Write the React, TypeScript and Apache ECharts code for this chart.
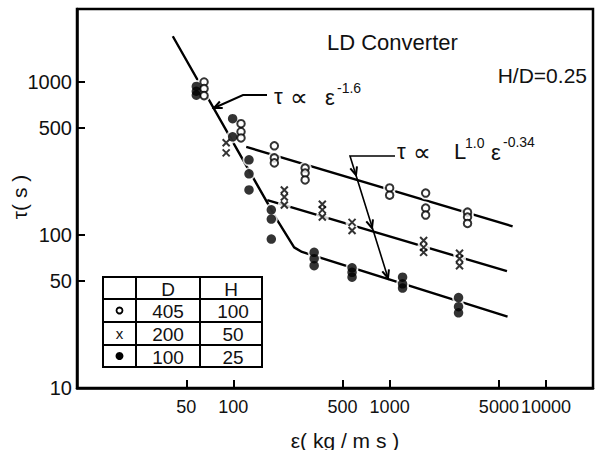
import React, { useEffect, useRef } from "react";
import * as echarts from "echarts";

// ε (kg/m s) and τ (s) readings, D=405 H=100 (open circles)
const openEps = [65, 65, 65, 112, 112, 112, 183, 183, 183, 288, 288, 288, 1000, 1000, 1700, 1700, 1700, 3150, 3150, 3150];
const openTau = [1000, 905, 815, 534, 473, 431, 383, 319, 296, 274, 254, 229, 203, 182, 188, 150, 135, 141, 131, 119];
// D=200 H=50 (crosses)
const crossEps = [90, 90, 212, 212, 212, 371, 371, 371, 575, 575, 1650, 1650, 1650, 2800, 2800, 2800];
const crossTau = [401, 344, 197, 177, 157, 159, 146, 131, 121, 107, 92, 83, 77, 76, 70, 63];
// D=100 H=25 (filled circles)
const fillEps = [58, 58, 58, 99, 99, 126, 126, 126, 175, 175, 175, 329, 329, 329, 575, 575, 575, 1210, 1210, 1210, 2760, 2760, 2760];
const fillTau = [935, 870, 820, 576, 438, 310, 251, 197, 146, 127, 94, 77, 70, 63, 61, 57, 53, 53, 48, 45, 39, 34, 31];

// fitted lines
const steepLineEps = [41, 191, 245, 275, 5680];
const steepLineTau = [1990, 125, 83, 77.5, 29.3];
const openLineEps = [121, 6120];
const openLineTau = [377, 114];
const crossLineEps = [165, 5630];
const crossLineTau = [169, 58];

// axes
const xTicks = [50, 100, 500, 1000, 5000, 10000];
const yTicks = [50, 100, 500, 1000];
const yLabels = [10, 50, 100, 500, 1000];

// legend table
const tableHeader = ["", "D", "H"];
const tableD = [405, 200, 100];
const tableH = [100, 50, 25];

const FONT = "'Liberation Sans', 'DejaVu Sans', sans-serif";
const SYMFONT = "'DejaVu Sans', sans-serif";
const L = Math.log10;
const pts = (xs: number[], ys: number[]) => xs.map((x, i) => [L(x), L(ys[i])]);
// tiny inward nudge so boundary-exact tick values survive range filtering
const tickPos = (vals: number[]) => vals.map((v) => L(v) - 1e-9);

function arrowV(tx: number, ty: number, dx: number, dy: number, len = 8, w = 3.5) {
  const n = Math.hypot(dx, dy);
  const ux = dx / n, uy = dy / n;
  return {
    type: "polyline",
    z: 100,
    shape: {
      points: [
        [tx - len * ux + w * uy, ty - len * uy - w * ux],
        [tx, ty],
        [tx - len * ux - w * uy, ty - len * uy + w * ux],
      ],
    },
    style: { stroke: "#000", lineWidth: 2, fill: "none" },
  };
}

function txt(text: string, x: number, y: number, size: number, align = "left", extra: any = {}, family = FONT) {
  return {
    type: "text",
    z: 100,
    x,
    y,
    ...extra,
    style: { text, fill: "#111", fontSize: size, fontFamily: family, align, verticalAlign: "middle" },
  };
}

function buildTable() {
  const cols = [103, 136, 200, 262];
  const rows = [277, 299, 322, 345, 367];
  const els: any[] = [];
  els.push({
    type: "rect", z: 100,
    shape: { x: cols[0], y: rows[0], width: cols[3] - cols[0], height: rows[4] - rows[0] },
    style: { fill: "#fff", stroke: "#000", lineWidth: 2 },
  });
  for (let i = 1; i < 3; i++)
    els.push({ type: "line", z: 101, shape: { x1: cols[i], y1: rows[0], x2: cols[i], y2: rows[4] }, style: { stroke: "#000", lineWidth: 2 } });
  for (let j = 1; j < 4; j++)
    els.push({ type: "line", z: 101, shape: { x1: cols[0], y1: rows[j], x2: cols[3], y2: rows[j] }, style: { stroke: "#000", lineWidth: 2 } });
  const cx = (i: number) => (cols[i] + cols[i + 1]) / 2;
  const cy = (j: number) => (rows[j] + rows[j + 1]) / 2;
  tableHeader.forEach((h, i) => { if (h) els.push(txt(h, cx(i), cy(0) + 1, 19, "center", { z: 102 })); });
  tableD.forEach((d, k) => els.push(txt(String(d), cx(1), cy(k + 1) + 1, 19, "center", { z: 102 })));
  tableH.forEach((h, k) => els.push(txt(String(h), cx(2) + 2, cy(k + 1) + 1, 19, "center", { z: 102 })));
  els.push({ type: "circle", z: 102, shape: { cx: cx(0), cy: cy(1), r: 3 }, style: { fill: "#fff", stroke: "#000", lineWidth: 1.8 } });
  els.push(txt("x", cx(0), cy(2), 15, "center", { z: 102 }));
  els.push({ type: "circle", z: 102, shape: { cx: cx(0), cy: cy(3), r: 4 }, style: { fill: "#000" } });
  return els;
}

export default function App() {
  const ref = useRef<HTMLDivElement>(null);
  useEffect(() => {
    if (!ref.current) return;
    const chart = echarts.init(ref.current, null, { renderer: "svg" });
    const lineSeries = (data: number[][]) => ({
      type: "line", data, symbol: "none", z: 2, silent: true,
      lineStyle: { color: "#000", width: 2.4 },
    });
    const allPts = [...pts(openEps, openTau), ...pts(crossEps, crossTau), ...pts(fillEps, fillTau)];
    const fmt = (v: number) => String(Math.round(Math.pow(10, v)));
    const option: any = {
      animation: false,
      backgroundColor: "#fff",
      grid: { left: 77, right: 11, top: 9, bottom: 62, show: true, borderColor: "#000", borderWidth: 2.5, backgroundColor: "transparent" },
      xAxis: {
        type: "value", min: L(10), max: L(20000),
        splitLine: { show: false },
        axisLine: { show: true, onZero: false, lineStyle: { color: "#000", width: 2.5 } },
        axisTick: { show: true, inside: true, length: 8, lineStyle: { color: "#000", width: 2 }, customValues: tickPos(xTicks) },
        axisLabel: { customValues: tickPos(xTicks), formatter: fmt, fontSize: 18, color: "#111", fontFamily: FONT, margin: 10, hideOverlap: false, showMaxLabel: true },
      },
      yAxis: {
        type: "value", min: L(10), max: L(3000),
        splitLine: { show: false },
        axisLine: { show: true, onZero: false, lineStyle: { color: "#000", width: 2.5 } },
        axisTick: { show: true, inside: true, length: 8, lineStyle: { color: "#000", width: 2 }, customValues: tickPos(yTicks) },
        axisLabel: { customValues: yLabels.map(L), formatter: fmt, fontSize: 20, color: "#111", fontFamily: FONT, margin: 5, showMinLabel: true },
      },
      series: [
        lineSeries(pts(steepLineEps, steepLineTau)),
        lineSeries(pts(openLineEps, openLineTau)),
        lineSeries(pts(crossLineEps, crossLineTau)),
        {
          type: "scatter", data: allPts, z: 3, silent: true, symbol: "circle", symbolSize: 13,
          itemStyle: { color: "#fff" },
        },
        {
          type: "scatter", data: pts(openEps, openTau), z: 4, symbol: "circle", symbolSize: 7.5,
          itemStyle: { color: "#fff", borderColor: "#000", borderWidth: 2 },
        },
        {
          type: "scatter", data: pts(crossEps, crossTau), z: 4, symbol: "path://M0,0L10,10M10,0L0,10", symbolSize: [7, 7],
          itemStyle: { color: "transparent", borderColor: "#000", borderWidth: 2 },
        },
        {
          type: "scatter", data: pts(fillEps, fillTau), z: 4, symbol: "circle", symbolSize: 9.5,
          itemStyle: { color: "#000" },
        },
      ],
      graphic: [
        txt("LD Converter", 327, 42, 22),
        txt("H/D=0.25", 587, 75, 21, "right"),
        txt("ε( kg / m s )", 345, 440, 21, "center"),
        txt("τ( s )", 19, 197, 21, "center", { rotation: Math.PI / 2 }),
        // τ ∝ ε^-1.6
        txt("τ", 274, 96, 22),
        txt("∝", 290, 97, 25, "left", {}, SYMFONT),
        txt("ε", 325, 97, 22),
        txt("-1.6", 337, 88, 14),
        { type: "polyline", z: 100, shape: { points: [[267, 95], [243, 95], [214, 108]] }, style: { stroke: "#000", lineWidth: 2, fill: "none" } },
        arrowV(214, 108, -29, 13),
        // τ ∝ L^1.0 ε^-0.34
        txt("τ", 397, 151, 22),
        txt("∝", 413, 152, 25, "left", {}, SYMFONT),
        txt("L", 454, 151, 22),
        txt("1.0", 465, 143, 14),
        txt("ε", 491, 152, 22),
        txt("-0.34", 503, 142, 14),
        { type: "polyline", z: 100, shape: { points: [[395, 156], [350, 156], [388, 278]] }, style: { stroke: "#000", lineWidth: 1.6, fill: "none" } },
        arrowV(356, 175, 38, 122),
        arrowV(372, 228, 38, 122),
        arrowV(388, 278, 38, 122),
        ...buildTable(),
      ],
    };
    chart.setOption(option);
    return () => chart.dispose();
  }, []);
  return <div ref={ref} style={{ position: "absolute", left: 0, top: 0, width: 604, height: 450 }} />;
}
